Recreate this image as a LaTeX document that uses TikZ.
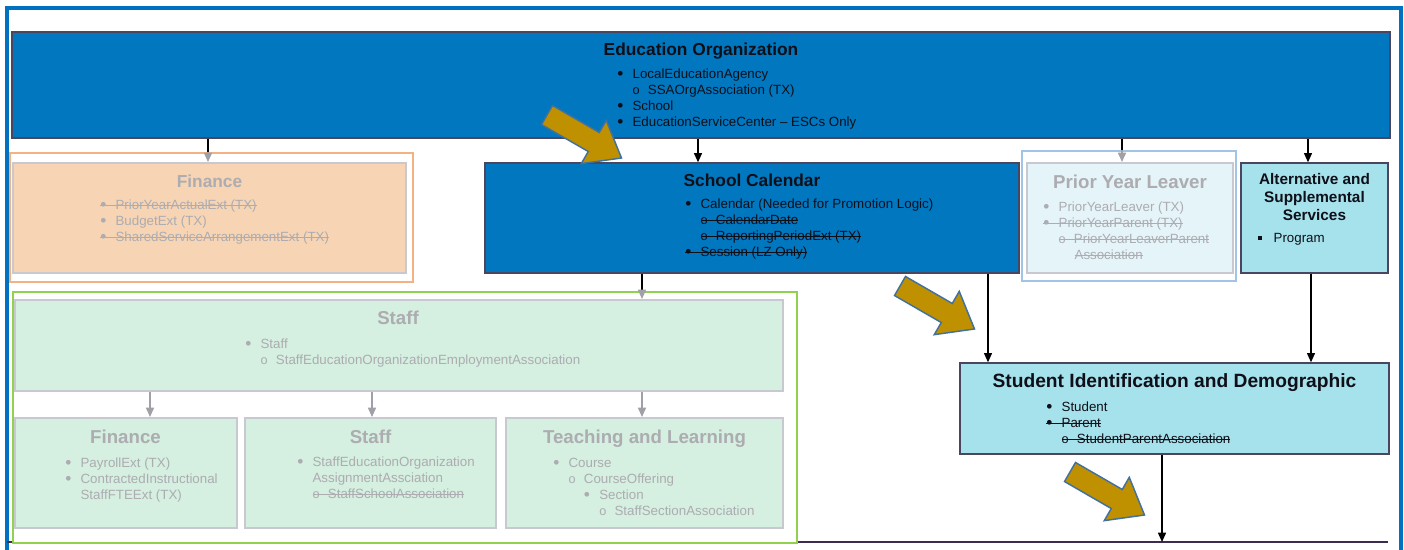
\documentclass[tikz,border=0pt]{standalone}
\usepackage{fontspec}
\setmainfont{Liberation Sans}
\usepackage{tikz}
\usetikzlibrary{fit,arrows.meta}

% list helpers
\newcommand{\strk}[1]{\setbox0\hbox{#1}\rlap{\rule[2.6pt]{\wd0}{0.7pt}}\box0}
\newcommand{\mkb}{\raisebox{-0.9pt}{\fontsize{13}{12}\selectfont\textbullet}}
\newcommand{\mko}{{\fontsize{9.5}{9.5}\selectfont o}}
\newcommand{\lstitem}[3]{\strut\hspace*{#1}\makebox[11.5pt][l]{#2}#3}
\newcommand{\lststrk}[3]{\strut\hspace*{#1}\strk{\makebox[11.5pt][l]{#2}#3}}

\tikzset{
  box/.style={inner sep=0pt, line width=1pt, draw={rgb, 255:red, 75; green, 70; blue, 95}},
  bluebox/.style={box, fill={rgb, 255:red, 0; green, 119; blue, 190}},
  cyanbox/.style={box, fill={rgb, 255:red, 166; green, 226; blue, 235}},
  fadebox/.style={inner sep=0pt, line width=1.5pt, draw={rgb, 255:red, 200; green, 200; blue, 208}},
  frame/.style={inner sep=0pt, line width=1.6pt, fill=white},
  title/.style={anchor=base, inner sep=0pt, font=\fontsize{13}{15}\selectfont\bfseries, text={rgb, 255:red, 15; green, 15; blue, 25}},
  bigtitle/.style={title, font=\fontsize{14}{16}\selectfont\bfseries},
  lst/.style={anchor=north west, align=left, inner sep=0pt, font=\fontsize{10}{12}\selectfont, text={rgb, 255:red, 15; green, 15; blue, 25}},
  faded/.style={text={rgb, 255:red, 172; green, 172; blue, 177}},
  conn/.style={line width=1.1pt, -{Triangle[length=7pt,width=6pt]}},
  connline/.style={line width=1.1pt},
  greyconn/.style={line width=1.1pt, draw={rgb, 255:red, 160; green, 160; blue, 166}, -{Triangle[length=7pt,width=6pt]}},
  goldarrow/.style={fill={rgb, 255:red, 191; green, 144; blue, 0}, draw={rgb, 255:red, 65; green, 113; blue, 156}, line width=1.1pt, line join=miter},
  goldarr/.pic={\draw[goldarrow] (0,-11) -- (54,-11) -- (54,-25) -- (86,0) -- (54,25) -- (54,11) -- (0,11) -- cycle;}
}

\begin{document}
\begin{tikzpicture}[x=0.75pt,y=0.75pt,yscale=-1,xscale=1]
\useasboundingbox[fill=white] (0,0) rectangle (1404,550);
%Outer frame
\draw[line width=2.4pt, draw={rgb, 255:red, 0; green, 112; blue, 192}] (7,556) -- (7,8) -- (1401,8) -- (1401,556);
%Bottom line
\coordinate (botL) at (7,542);
\coordinate (botR) at (1388,542);
\draw[line width=1pt, draw={rgb, 255:red, 60; green, 45; blue, 80}] (botL) -- (botR);

%Education Organization
\node[bluebox, fit={(12,32) (1390,138)}] (eo) {};
\node[title] (eoT) at (701,55) {Education Organization};
\node[lst] (eoL) at (617,66.8) {\lstitem{0pt}{\mkb}{LocalEducationAgency}\\
  \lstitem{11.5pt}{\mko}{SSAOrgAssociation (TX)}\\
  \lstitem{0pt}{\mkb}{School}\\
  \lstitem{0pt}{\mkb}{EducationServiceCenter – ESCs Only}};

%Finance (faded)
\node[frame, draw={rgb, 255:red, 244; green, 177; blue, 131}, fit={(10,153) (413,282)}] (finF) {};
\node[fadebox, fill={rgb, 255:red, 247; green, 212; blue, 180}, fit={(13,163) (406,273)}] (fin) {};
\node[title, faded] (finT) at (209.5,187) {Finance};
\node[lst, faded] (finL) at (100,197.8) {\lststrk{0pt}{\mkb}{PriorYearActualExt (TX)}\\
  \lstitem{0pt}{\mkb}{BudgetExt (TX)}\\
  \lststrk{0pt}{\mkb}{SharedServiceArrangementExt (TX)}};

%School Calendar
\node[bluebox, fit={(485,163) (1019,273)}] (sc) {};
\node[title] (scT) at (752,186) {School Calendar};
\node[lst] (scL) at (685,196.8) {\lstitem{0pt}{\mkb}{Calendar (Needed for Promotion Logic)}\\
  \lststrk{11.5pt}{\mko}{CalendarDate}\\
  \lststrk{11.5pt}{\mko}{ReportingPeriodExt (TX)}\\
  \lststrk{0pt}{\mkb}{Session (LZ Only)}};

%Prior Year Leaver (faded)
\node[frame, draw={rgb, 255:red, 160; green, 196; blue, 230}, fit={(1022,151) (1236,281)}] (pylF) {};
\node[fadebox, fill={rgb, 255:red, 228; green, 244; blue, 248}, fit={(1027,163) (1233,273)}] (pyl) {};
\node[bigtitle, faded] (pylT) at (1130,188) {Prior Year Leaver};
\node[lst, faded] (pylL) at (1043,199.8) {\lstitem{0pt}{\mkb}{PriorYearLeaver (TX)}\\
  \lststrk{0pt}{\mkb}{PriorYearParent (TX)}\\
  \lststrk{11.5pt}{\mko}{PriorYearLeaverParent}\\
  \strut\hspace*{23.5pt}\strk{Association}};

%Alternative and Supplemental Services
\node[cyanbox, fit={(1241,163) (1388,273)}] (alt) {};
\node[title, anchor=north, align=center, font=\fontsize{11.5}{13.5}\selectfont\bfseries] (altT) at (1314.5,171.4) {\strut Alternative and\\\strut Supplemental\\\strut Services};
\node[lst] (altL) at (1258,230.8) {\lstitem{0pt}{\raisebox{1.6pt}{\rule{3pt}{3pt}}}{Program}};

%Staff (faded)
\node[frame, draw={rgb, 255:red, 146; green, 208; blue, 80}, fit={(13,292) (797,543)}] (staffF) {};
\node[fadebox, fill={rgb, 255:red, 213; green, 239; blue, 224}, fit={(15,300) (783,391)}] (staff) {};
\node[bigtitle, faded] (staffT) at (398,324) {Staff};
\node[lst, faded] (staffL) at (245,336.8) {\lstitem{0pt}{\mkb}{Staff}\\
  \lstitem{11.5pt}{\mko}{StaffEducationOrganizationEmploymentAssociation}};

\node[fadebox, fill={rgb, 255:red, 213; green, 239; blue, 224}, fit={(15,418) (237,528)}] (sfin) {};
\node[bigtitle, faded] (sfinT) at (125.5,443) {Finance};
\node[lst, faded] (sfinL) at (65,455.8) {\lstitem{0pt}{\mkb}{PayrollExt (TX)}\\
  \lstitem{0pt}{\mkb}{ContractedInstructional}\\
  \strut\hspace*{11.5pt}StaffFTEExt (TX)};

\node[fadebox, fill={rgb, 255:red, 213; green, 239; blue, 224}, fit={(245,418) (496,528)}] (sstaff) {};
\node[bigtitle, faded] (sstaffT) at (370.5,443) {Staff};
\node[lst, faded] (sstaffL) at (297,454.8) {\lstitem{0pt}{\mkb}{StaffEducationOrganization}\\
  \strut\hspace*{11.5pt}AssignmentAssciation\\
  \lststrk{11.5pt}{\mko}{StaffSchoolAssociation}};

\node[fadebox, fill={rgb, 255:red, 213; green, 239; blue, 224}, fit={(506,418) (783,528)}] (teach) {};
\node[bigtitle, faded] (teachT) at (644.5,443) {Teaching and Learning};
\node[lst, faded] (teachL) at (553,455.8) {\lstitem{0pt}{\mkb}{Course}\\
  \lstitem{11.5pt}{\mko}{CourseOffering}\\
  \lstitem{23pt}{\mkb}{Section}\\
  \lstitem{34.5pt}{\mko}{StaffSectionAssociation}};

%Student Identification and Demographic
\node[cyanbox, fit={(960,363) (1389,454)}] (stu) {};
\node[bigtitle, font=\fontsize{14.4}{16}\selectfont\bfseries] (stuT) at (1174.5,387) {Student Identification and Demographic};
\node[lst] (stuL) at (1046,399.8) {\lstitem{0pt}{\mkb}{Student}\\
  \lststrk{0pt}{\mkb}{Parent}\\
  \lststrk{11.5pt}{\mko}{StudentParentAssociation}};

%Connectors
\draw[connline] (eo.south -| 208,0) -- (finF.north -| 208,0);
\draw[greyconn] (finF.north -| 208,0) -- (fin.north -| 208,0);
\draw[conn] (eo.south -| 698,0) -- (sc.north -| 698,0);
\draw[connline] (eo.south -| 1122,0) -- (pylF.north -| 1122,0);
\draw[greyconn] (pylF.north -| 1122,0) -- (pyl.north -| 1122,0);
\draw[conn] (eo.south -| 1308,0) -- (alt.north -| 1308,0);
\draw[connline] (sc.south -| 642,0) -- (staffF.north -| 642,0);
\draw[greyconn] (staffF.north -| 642,0) -- (staff.north -| 642,0);
\draw[greyconn] (staff.south -| 150,0) -- (sfin.north -| 150,0);
\draw[greyconn] (staff.south -| 372,0) -- (sstaff.north -| 372,0);
\draw[greyconn] (staff.south -| 642,0) -- (teach.north -| 642,0);
\draw[conn] (sc.south -| 988,0) -- (stu.north -| 988,0);
\draw[conn] (alt.south -| 1311,0) -- (stu.north -| 1311,0);
\draw[conn] (stu.south -| 1162,0) -- (botL -| 1162,0);

%Gold arrows
\pic[rotate=-30] at (547,115) {goldarr};
\pic[rotate=-30] at (900,286) {goldarr};
\pic[rotate=-30] at (1070,472) {goldarr};
\end{tikzpicture}
\end{document}
